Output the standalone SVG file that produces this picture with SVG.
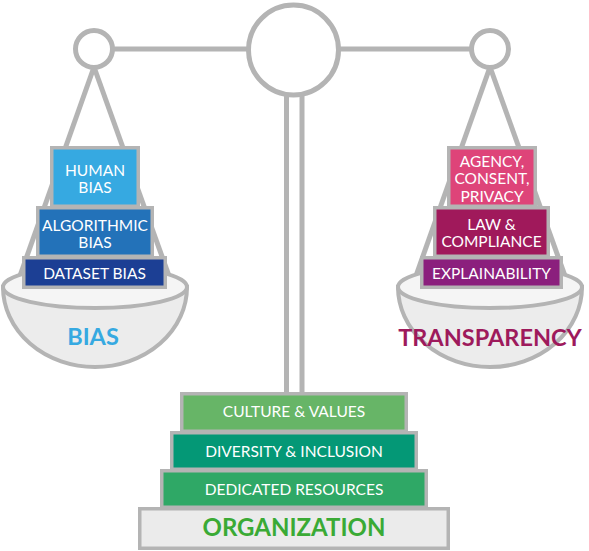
<svg xmlns="http://www.w3.org/2000/svg" width="589" height="551" viewBox="0 0 589 551">
<style>
.g{stroke:#b4b4b4;fill:none;stroke-width:5}
.box{stroke:#b4b4b4;stroke-width:3.5}
.t{font-family:Lato,"Open Sans",sans-serif;font-size:15.5px;fill:#fff;text-anchor:middle}
.big{font-family:Lato,"Open Sans",sans-serif;font-weight:bold;text-anchor:middle}
.bowl{stroke:#b4b4b4;stroke-width:4;fill:#ececec}
.rim{stroke:#b4b4b4;stroke-width:4;fill:#f5f5f5}
</style>
<rect width="589" height="551" fill="#fff"/>
<g id="connectors">
<line class="g" x1="286.5" y1="95" x2="286.5" y2="394"/>
<line class="g" x1="302" y1="95" x2="302" y2="394"/>
<line class="g" x1="112" y1="49" x2="248" y2="49"/>
<line class="g" x1="338" y1="49" x2="472" y2="49"/>
<line class="g" x1="94" y1="67" x2="16" y2="287"/>
<line class="g" x1="94" y1="67" x2="173" y2="287"/>
<line class="g" x1="490" y1="67" x2="412" y2="287"/>
<line class="g" x1="490" y1="67" x2="569" y2="287"/>
</g>
<g id="scale">
<circle class="g" cx="293.5" cy="50" r="45"/>
<circle class="g" cx="94" cy="49" r="18.5"/>
<circle class="g" cx="490" cy="49" r="18.5"/>
</g>
<g id="bowl-left">
<path class="bowl" d="M3,287 A92,80 0 0 0 187,287 Z"/>
<ellipse class="rim" cx="95" cy="287" rx="92" ry="21"/>
<text class="big" x="93" y="345" font-size="23.5" fill="#36a9e1">BIAS</text>
</g>
<g id="bowl-right">
<path class="bowl" d="M398,287 A92,80 0 0 0 582,287 Z"/>
<ellipse class="rim" cx="490" cy="287" rx="92" ry="21"/>
<text class="big" x="490" y="346" font-size="23.5" fill="#9e1a5c">TRANSPARENCY</text>
</g>
<g id="human-bias">
<rect class="box" x="51.75" y="147.75" width="86.5" height="58.5" fill="#36a9e1"/>
<text class="t" x="95" y="176">HUMAN</text>
<text class="t" x="95" y="193">BIAS</text>
</g>
<g id="algorithmic-bias">
<rect class="box" x="37.75" y="207.75" width="114.5" height="48.5" fill="#2372b9"/>
<text class="t" x="95" y="231">ALGORITHMIC</text>
<text class="t" x="95" y="248">BIAS</text>
</g>
<g id="dataset-bias">
<rect class="box" x="23.75" y="257.75" width="141.5" height="29.5" fill="#1c3f94"/>
<text class="t" x="94.5" y="279">DATASET BIAS</text>
</g>
<g id="agency">
<rect class="box" x="448.75" y="147.75" width="86.5" height="58.5" fill="#de4479"/>
<text class="t" x="492" y="167">AGENCY,</text>
<text class="t" x="492" y="184">CONSENT,</text>
<text class="t" x="492" y="202">PRIVACY</text>
</g>
<g id="law">
<rect class="box" x="434.75" y="207.75" width="113.5" height="48.5" fill="#a0195b"/>
<text class="t" x="491.5" y="230">LAW &amp;</text>
<text class="t" x="491.5" y="247">COMPLIANCE</text>
</g>
<g id="explainability">
<rect class="box" x="421.75" y="257.75" width="139.5" height="29.5" fill="#8b1f7d"/>
<text class="t" x="491.5" y="279">EXPLAINABILITY</text>
</g>
<g id="culture">
<rect class="box" x="181.75" y="393.75" width="224.5" height="37.5" fill="#67b567"/>
<text class="t" x="294" y="417">CULTURE &amp; VALUES</text>
</g>
<g id="diversity">
<rect class="box" x="171.75" y="432.75" width="244.5" height="36.5" fill="#049876"/>
<text class="t" x="294" y="457">DIVERSITY &amp; INCLUSION</text>
</g>
<g id="dedicated">
<rect class="box" x="161.75" y="470.75" width="264.5" height="36.5" fill="#2fa866"/>
<text class="t" x="294" y="495">DEDICATED RESOURCES</text>
</g>
<g id="organization">
<rect class="box" x="139.75" y="508.75" width="308.5" height="39.5" fill="#ebebeb"/>
<text class="big" x="294" y="536" font-size="24" fill="#3aaa35">ORGANIZATION</text>
</g>
</svg>
